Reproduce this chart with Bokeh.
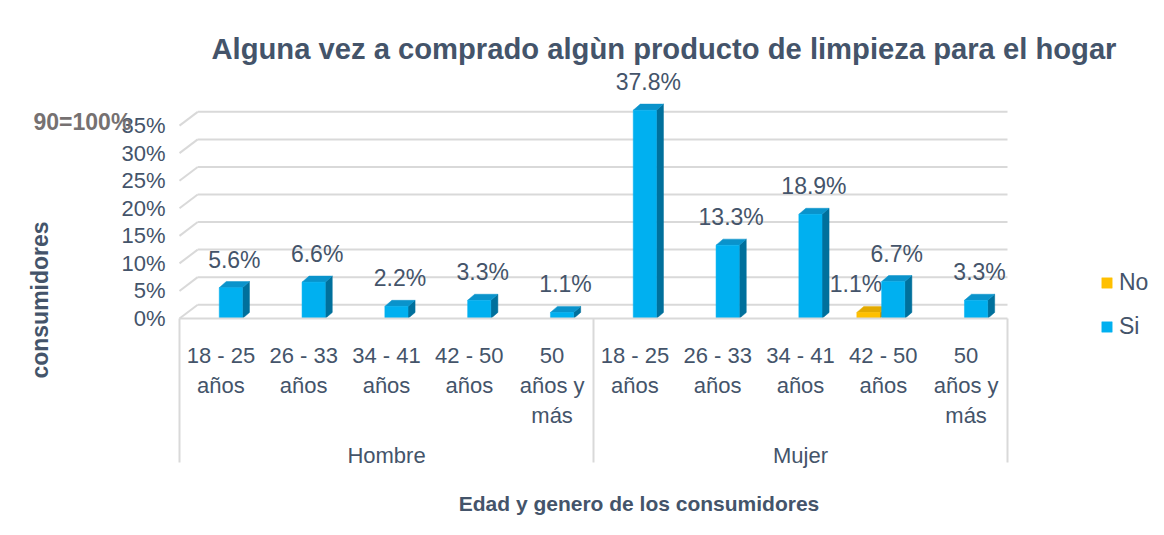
from bokeh.plotting import figure
from bokeh.models import (Range1d, Legend, LegendItem, Label, LinearAxis,
                          FixedTicker, PrintfTickFormatter)
from bokeh.core.properties import value
from bokeh.embed import file_html
from bokeh.resources import INLINE

# ---------------- data ----------------
genders = ["Hombre", "Mujer"]
ages = ["18 - 25\naños", "26 - 33\naños", "34 - 41\naños", "42 - 50\naños", "50\naños y\nmás"]
si_values = [5.6, 6.6, 2.2, 3.3, 1.1, 37.8, 13.3, 18.9, 6.7, 3.3]
no_values = [0, 0, 0, 0, 0, 0, 0, 0, 1.1, 0]
y_ticks = [0, 5, 10, 15, 20, 25, 30, 35]

title_text = "Alguna vez a comprado algùn producto de limpieza para el hogar"
x_title = "Edad y genero de los consumidores"
y_title = "consumidores"
note_text = "90=100%"

# ---------------- style / layout ----------------
FONT = "Liberation Sans"
TXT = "#44546A"
GRID = "#D9D9D9"
SI_FRONT, SI_TOP, SI_SIDE = "#00B0F0", "#0A93CB", "#00709C"
NO_FRONT, NO_TOP, NO_SIDE = "#FFC000", "#E3AA00", "#BB8C00"

W, H = 1148, 519
FRAME_TOP = 64           # canvas px where the plotting frame starts
ZERO_Y = 318             # canvas px of value 0
PLOT_LEFT, PLOT_RIGHT = 179, 1007   # canvas px of the category area
n_groups = len(genders)
n_per = len(ages)
n = n_groups * n_per
UNIT = (PLOT_RIGHT - PLOT_LEFT) / n  # px per category
PX = 248 / 45                        # px per percentage point

x_start = -PLOT_LEFT / UNIT
x_end = n + (W - PLOT_RIGHT) / UNIT
y_end = (ZERO_Y - FRAME_TOP) / PX
y_start = -(H - ZERO_Y) / PX

p = figure(width=W, height=H, output_backend="svg", toolbar_location=None,
           x_range=Range1d(x_start, x_end), y_range=Range1d(y_start, y_end),
           x_axis_location=None, y_axis_location=None,
           min_border_left=0, min_border_right=0, min_border_top=FRAME_TOP, min_border_bottom=0)
p.outline_line_color = None
p.background_fill_color = "white"
p.border_fill_color = "white"
p.grid.visible = False

# title
p.title.text = title_text
p.title.text_font = FONT
p.title.text_font_size = "29.2px"
p.title.text_font_style = "bold"
p.title.text_color = TXT
p.title.align = "left"
p.title.offset = 211
p.title.standoff = 0

# 3D geometry (style constants)
bar_w = 0.28
side_dx = 0.085
top_dy = 1.1
grid_dx = 0.22
grid_dy = 2.5

# back-wall gridlines with slanted left edges
gx0, gy0, gx1, gy1 = [], [], [], []
for t in y_ticks:
    gx0 += [0, grid_dx]
    gy0 += [t, t + grid_dy]
    gx1 += [grid_dx, n]
    gy1 += [t + grid_dy, t + grid_dy]
p.segment(x0=gx0, y0=gy0, x1=gx1, y1=gy1, line_color=GRID, line_width=2)

# group separators below the category axis
sep_x = [g * n_per for g in range(n_groups + 1)]
sep_bottom = -(462 - ZERO_Y) / PX
p.segment(x0=sep_x, y0=[0] * len(sep_x), x1=sep_x, y1=[sep_bottom] * len(sep_x),
          line_color=GRID, line_width=2)


def draw_series(vals, offset, front, top, side, label_dx):
    idx = [i for i, v in enumerate(vals) if v > 0]
    xc = [i + 0.5 + offset for i in idx]
    vs = [vals[i] for i in idx]
    left = [x - bar_w / 2 for x in xc]
    right = [x + bar_w / 2 for x in xc]
    side_xs = [[r, r + side_dx, r + side_dx, r] for r in right]
    side_ys = [[0, top_dy, v + top_dy, v] for v in vs]
    top_xs = [[l, r, r + side_dx, l + side_dx] for l, r in zip(left, right)]
    top_ys = [[v, v, v + top_dy, v + top_dy] for v in vs]
    p.patches(xs=side_xs, ys=side_ys, fill_color=side, line_color=side, line_width=0.5)
    p.patches(xs=top_xs, ys=top_ys, fill_color=top, line_color=top, line_width=0.5)
    r = p.quad(left=left, right=right, bottom=[0] * len(vs), top=vs,
               fill_color=front, line_color=front, line_width=0.5)
    p.text(x=[x + side_dx / 2 for x in xc], y=[v + top_dy for v in vs],
           text=[f"{v:.1f}%" for v in vs], x_offset=label_dx, y_offset=-9,
           text_align="center", text_baseline="bottom",
           text_font=value(FONT), text_font_size="23px", text_color=TXT)
    return r


r_no = draw_series(no_values, -0.18, NO_FRONT, NO_TOP, NO_SIDE, -16)
r_si = draw_series(si_values, 0.12, SI_FRONT, SI_TOP, SI_SIDE, 0)

# ---------------- y axis (value) ----------------
ya = LinearAxis(fixed_location=0, ticker=FixedTicker(ticks=y_ticks),
                formatter=PrintfTickFormatter(format="%d%%"),
                bounds=(y_start, y_end - 2.9))
ya.axis_line_color = None
ya.major_tick_line_color = None
ya.minor_tick_line_color = None
ya.major_tick_in = 0
ya.major_tick_out = 0
ya.major_label_standoff = 14
ya.major_label_text_font = FONT
ya.major_label_text_font_size = "22px"
ya.major_label_text_color = TXT
ya.axis_label = y_title
ya.axis_label_text_font = FONT
ya.axis_label_text_font_size = "23px"
ya.axis_label_text_font_style = "bold"
ya.axis_label_text_color = TXT
ya.axis_label_standoff = 65
p.add_layout(ya, "left")

# ---------------- x axis (age categories) ----------------
cat_pos = [i + 0.5 for i in range(n)]
cat_labels = [a for g in genders for a in ages]
xa = LinearAxis(fixed_location=0, ticker=FixedTicker(ticks=cat_pos),
                major_label_overrides={pos: lbl for pos, lbl in zip(cat_pos, cat_labels)},
                bounds=(0, n))
xa.axis_line_color = GRID
xa.axis_line_width = 2
xa.major_tick_line_color = None
xa.minor_tick_line_color = None
xa.major_tick_in = 0
xa.major_tick_out = 0
xa.major_label_standoff = 24
xa.major_label_text_font = FONT
xa.major_label_text_font_size = "22px"
xa.major_label_text_color = TXT
xa.major_label_text_line_height = 1.2
p.add_layout(xa, "below")

# ---------------- x axis (gender groups + title) ----------------
grp_pos = [g * n_per + n_per / 2 for g in range(n_groups)]
ga = LinearAxis(fixed_location=0, ticker=FixedTicker(ticks=grp_pos),
                major_label_overrides={pos: g for pos, g in zip(grp_pos, genders)},
                bounds=(0, 11.1))
ga.axis_line_color = None
ga.major_tick_line_color = None
ga.minor_tick_line_color = None
ga.major_tick_in = 0
ga.major_tick_out = 0
ga.major_label_standoff = 124
ga.major_label_text_font = FONT
ga.major_label_text_font_size = "22px"
ga.major_label_text_color = TXT
ga.axis_label = x_title
ga.axis_label_text_font = FONT
ga.axis_label_text_font_size = "21px"
ga.axis_label_text_font_style = "bold"
ga.axis_label_text_color = TXT
ga.axis_label_standoff = 21
p.add_layout(ga, "below")

# note label (frame covers the whole canvas width)
p.add_layout(Label(x=33, y=H - 121, x_units="screen", y_units="screen", text=note_text,
                   text_font=FONT, text_font_size="23px", text_font_style="bold",
                   text_color="#767171", text_baseline="middle"))

# legend
legend = Legend(items=[LegendItem(label="No", renderers=[r_no]),
                       LegendItem(label="Si", renderers=[r_si])],
                location=(1100, H - 340), orientation="vertical",
                glyph_width=13, glyph_height=13, label_height=26, spacing=17,
                padding=0, label_standoff=6,
                label_text_font=FONT, label_text_font_size="23px", label_text_color=TXT,
                border_line_color=None, background_fill_alpha=0)
p.add_layout(legend, "center")

open("out.html", "w").write(file_html(p, INLINE))
